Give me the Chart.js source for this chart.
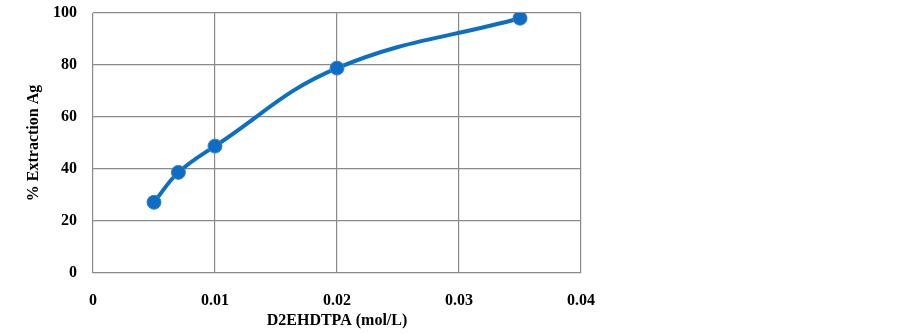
<!DOCTYPE html>
<html>
<head>
<meta charset="utf-8">
<script src="https://cdn.jsdelivr.net/npm/chart.js@4/dist/chart.umd.min.js"></script>
<style>
   html, body { margin: 0; padding: 0; background: #fff; }
   #wrap { width: 903px; height: 334px; position: relative; }
</style>
</head>
<body>
<div id="wrap"><canvas id="graphique"></canvas></div>
<script>
// concentration D2EHDTPA (mol/L) et % extraction Ag
const concentration = [0.005, 0.007, 0.01, 0.02, 0.035];
const extraction = [27.2, 38.7, 48.8, 78.8, 98.0];
const xTicks = [0, 0.01, 0.02, 0.03, 0.04];
const yTicks = [0, 20, 40, 60, 80, 100];

const ctx = document.getElementById('graphique');
const police = { family: '"Liberation Serif", "Times New Roman", serif', size: 16, weight: 'bold' };

const points = concentration.map((x, i) => ({ x: x, y: extraction[i] }));

new Chart(ctx, {
   type: 'scatter',
   data: {
      datasets: [{
         data: points,
         showLine: true,
         borderColor: '#0B6FC3',
         backgroundColor: '#0E6CC4',
         borderWidth: 4,
         pointBorderColor: '#3F82C9',
         pointBorderWidth: 1,
         pointRadius: 7,
         pointHoverRadius: 7,
         tension: 0.4
      }]
   },
   options: {
      responsive: true,
      maintainAspectRatio: false,
      animation: false,
      layout: { padding: { left: 0, right: 322, top: 13, bottom: 0 } },
      plugins: { legend: { display: false }, tooltip: { enabled: false } },
      scales: {
         x: {
            type: 'linear',
            min: 0,
            max: 0.04,
            afterBuildTicks: axis => { axis.ticks = xTicks.map(v => ({ value: v })); },
            afterFit: axis => {
               axis.height = 61;
               axis.paddingLeft = 0;
               axis.paddingRight = 0;
            },
            ticks: {
               color: '#000',
               font: police,
               padding: 18,
               callback: v => String(v)
            },
            grid: { color: '#8a8a8a', lineWidth: 1.2, drawTicks: false },
            border: { display: false },
            title: {
               display: true,
               text: 'D2EHDTPA (mol/L)',
               color: '#000',
               font: police,
               padding: { top: 0, bottom: 4 }
            }
         },
         y: {
            min: 0,
            max: 100,
            afterBuildTicks: axis => { axis.ticks = yTicks.map(v => ({ value: v })); },
            afterFit: axis => {
               axis.width = 93;
               axis.paddingTop = 0;
               axis.paddingBottom = 0;
            },
            ticks: {
               color: '#000',
               font: police,
               padding: 16
            },
            grid: { color: '#8a8a8a', lineWidth: 1.2, drawTicks: false },
            border: { display: false },
            title: {
               display: true,
               text: '% Extraction Ag',
               color: '#000',
               font: police,
               padding: { top: 24, bottom: 0 }
            }
         }
      }
   }
});
</script>
</body>
</html>
